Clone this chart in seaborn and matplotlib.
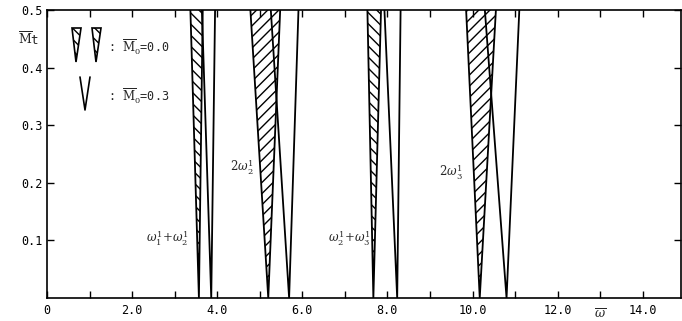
import numpy as np
import pandas as pd
import matplotlib
matplotlib.use("Agg")
import matplotlib.pyplot as plt
import seaborn as sns

# ---- data ----
resonances = ["w1+w2", "2w2", "w2+w3", "2w3"]
res_labels = [r"$\omega_1^1\!+\!\omega_2^1$", r"$2\omega_2^1$",
              r"$\omega_2^1\!+\!\omega_3^1$", r"$2\omega_3^1$"]
label_x = [3.32, 4.87, 7.61, 9.78]
label_y = [0.104, 0.227, 0.104, 0.219]
hatches = ["\\\\\\", "///", "\\\\\\", "///"]

# M0 = 0.0 (hatched) wedges: omega at Mt=0 (tip) and at Mt=0.5 (left/right)
m00_tip = [3.57, 5.20, 7.67, 10.17]
m00_left = [3.37, 4.78, 7.53, 9.85]
m00_right = [3.66, 5.48, 7.85, 10.55]
# M0 = 0.3 (open) wedges
m03_tip = [3.86, 5.69, 8.23, 10.80]
m03_left = [3.64, 5.26, 7.93, 10.29]
m03_right = [3.95, 5.91, 8.31, 11.10]

mt_tip = 0.0
mt_top = 0.5

xticks = list(range(0, 15))
xticklabels = ["0", "", "2.0", "", "4.0", "", "6.0", "", "8.0", "", "10.0", "", "12.0", "", "14.0"]
yticks = [0.1, 0.2, 0.3, 0.4, 0.5]
yticklabels = ["0.1", "0.2", "0.3", "0.4", "0.5"]

# ---- build line table ----
rows = []
for i, r in enumerate(resonances):
    for case, L, T, R in (("0.0", m00_left, m00_tip, m00_right),
                          ("0.3", m03_left, m03_tip, m03_right)):
        uid = f"{r}_{case}"
        for k, (x, y) in enumerate(((L[i], mt_top), (T[i], mt_tip), (R[i], mt_top))):
            rows.append({"unit": uid, "order": k, "omega": x, "Mt": y, "M0": case})
df = pd.DataFrame(rows)

sns.set_style("ticks")
plt.rcParams["font.family"] = ["DejaVu Sans Mono", "DejaVu Sans"]
plt.rcParams["mathtext.fontset"] = "dejavuserif"
plt.rcParams["hatch.linewidth"] = 1.0

fig = plt.figure(figsize=(6.82, 3.21), dpi=100)
ax = fig.add_axes([47 / 682, 1 - 298 / 321, 634 / 682, 288 / 321])

# hatched fills for M0 = 0.0
for i in range(len(resonances)):
    ax.fill([m00_left[i], m00_tip[i], m00_right[i]], [mt_top, mt_tip, mt_top],
            facecolor="none", edgecolor="black", linewidth=0, hatch=hatches[i])

sns.lineplot(data=df, x="omega", y="Mt", units="unit", estimator=None, sort=False,
             color="black", linewidth=1.3, ax=ax, legend=False)

ax.set_xlim(0, 14.9)
ax.set_ylim(0, 0.5)
ax.set_xticks(xticks)
ax.set_xticklabels(xticklabels)
ax.set_yticks(yticks)
ax.set_yticklabels(yticklabels)
ax.tick_params(direction="in", top=True, right=True, length=5, width=1.0,
               labelsize=8.5, colors="black")
ax.tick_params(axis="x", pad=4)
ax.tick_params(axis="y", pad=3)
for s in ax.spines.values():
    s.set_linewidth(1.2)
    s.set_color("black")

ax.set_xlabel(r"$\overline{\omega}$", fontsize=9)
ax.xaxis.set_label_coords((600 - 47) / 634, -0.035)
ax.set_ylabel("")
ax.text(-0.012, (298 - 39) / 288, r"$\overline{\mathrm{M}}$t", transform=ax.transAxes,
        ha="right", va="center", fontsize=9)

for i in range(len(resonances)):
    ax.text(label_x[i], label_y[i], res_labels[i], ha="right", va="center", fontsize=8.5)

# legend key drawn inside the axes
def ax_xy(px, py):
    return (px - 47) / 634, (298 - py) / 288

for x0 in (72, 92):
    pts = [ax_xy(x0, 28), ax_xy(x0 + 4, 62), ax_xy(x0 + 9, 28)]
    xs = [p[0] for p in pts]
    ys = [p[1] for p in pts]
    ax.fill(xs, ys, transform=ax.transAxes, facecolor="none", edgecolor="black",
            linewidth=1.2, hatch="\\\\\\")
pts = [ax_xy(80, 77), ax_xy(85, 110), ax_xy(90, 77)]
ax.plot([p[0] for p in pts], [p[1] for p in pts], transform=ax.transAxes,
        color="black", linewidth=1.2)
ax.text(*ax_xy(108, 47), r": $\overline{\mathrm{M}}_0$=0.0", transform=ax.transAxes,
        ha="left", va="center", fontsize=8.5)
ax.text(*ax_xy(108, 96), r": $\overline{\mathrm{M}}_0$=0.3", transform=ax.transAxes,
        ha="left", va="center", fontsize=8.5)

fig.savefig("out.png", dpi=100)
